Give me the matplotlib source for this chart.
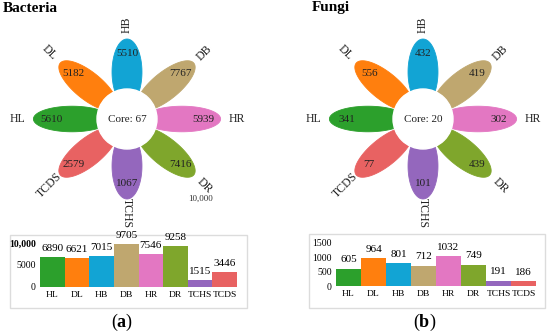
import numpy as np
import matplotlib
matplotlib.use("Agg")
import matplotlib.pyplot as plt
from matplotlib.patches import Polygon, Circle, Rectangle

plt.rcParams['font.family'] = ['Liberation Serif', 'DejaVu Serif']
plt.rcParams['mathtext.fontset'] = 'custom'
plt.rcParams['mathtext.rm'] = 'Liberation Serif'
plt.rcParams['mathtext.bf'] = 'Liberation Serif:bold'

# ---- data ----
groups = ["HL", "DL", "HB", "DB", "HR", "DR", "TCHS", "TCDS"]
colors = ["#2ca02c", "#ff7f0e", "#12a4d4", "#bfa76f", "#e377c2", "#7fa62c", "#9467bd", "#e86262"]
petal_angles = [180, 135, 90, 45, 0, -45, -90, -135]
label_rot = [0, -45, 90, 45, 0, -45, -90, 45]

bact_unique = [5610, 5182, 5510, 7767, 5939, 7416, 1067, 2579]
bact_core = 67
bact_total = [6890, 6621, 7015, 9705, 7546, 9258, 1515, 3446]

fungi_unique = [341, 556, 432, 419, 302, 439, 101, 77]
fungi_core = 20
fungi_total = [605, 964, 801, 712, 1032, 749, 191, 186]

W, H = 550, 336
fig = plt.figure(figsize=(W / 100, H / 100), dpi=100)

# overlay axes in pixel coords
ov = fig.add_axes([0, 0, 1, 1])
ov.set_xlim(0, W)
ov.set_ylim(H, 0)
ov.axis("off")

SX = 1.17  # horizontal stretch


def flower(cx, cy, uniq, core):
    t = np.linspace(0, 2 * np.pi, 160)
    d, a, b = 47, 33, 12.8
    for ang, col, v, g, rot in zip(petal_angles, colors, uniq, groups, label_rot):
        th = np.deg2rad(ang)
        lx = d + a * np.cos(t)
        ly = b * np.sin(t)
        px = lx * np.cos(th) - ly * np.sin(th)
        py = lx * np.sin(th) + ly * np.cos(th)
        pts = np.column_stack([cx + SX * px, cy - py])
        ov.add_patch(Polygon(pts, closed=True, facecolor=col, edgecolor=col, lw=0.6, zorder=2))
        ov.text(cx + SX * 65 * np.cos(th), cy - 65 * np.sin(th), str(v),
                ha="center", va="center", fontsize=8, color="#222222", zorder=4)
        ov.text(cx + SX * 94 * np.cos(th), cy - 94 * np.sin(th), g,
                ha="center", va="center", fontsize=8.5, rotation=rot,
                rotation_mode="anchor", color="#222222", zorder=4)
    ov.add_patch(Circle((cx, cy), 30, facecolor="white", edgecolor="white", zorder=3))
    ov.text(cx, cy, f"Core: {core}", ha="center", va="center", fontsize=8, color="#222222", zorder=4)


flower(127, 119, bact_unique, bact_core)
flower(423, 119, fungi_unique, fungi_core)

ov.text(3, 9, "Bacteria", fontsize=11, fontweight="bold", ha="left", va="center")
ov.text(312, 8, "Fungi", fontsize=11, fontweight="bold", ha="left", va="center")
ov.text(201, 199, "10,000", fontsize=6.5, ha="center", va="center", color="#333333")

# frames
ov.add_patch(Rectangle((10, 235), 237, 73, facecolor="none", edgecolor="#dcdcdc", lw=1, zorder=0))
ov.add_patch(Rectangle((309, 234), 236, 74, facecolor="none", edgecolor="#dcdcdc", lw=1, zorder=0))

# captions
ov.text(122, 322, r"($\mathbf{a}$)", fontsize=13, ha="center", va="center")
ov.text(425, 322, r"($\mathbf{b}$)", fontsize=13, ha="center", va="center")


def bars(rect, vals, ymax, ticks, ticklabels, bold_top):
    ax = fig.add_axes(rect)
    x = np.arange(len(vals))
    ax.bar(x, vals, width=1.0, color=colors)
    ax.set_xlim(-0.5, len(vals) - 0.5)
    ax.set_ylim(0, ymax)
    for s in ax.spines.values():
        s.set_visible(False)
    ax.set_xticks(x)
    ax.set_xticklabels(groups, fontsize=6.8)
    ax.set_yticks(ticks)
    ax.set_yticklabels(ticklabels, fontsize=7)
    if bold_top:
        ax.get_yticklabels()[-1].set_fontweight("bold")
    ax.tick_params(length=0, pad=3)
    for xi, v in zip(x, vals):
        ax.annotate(str(v), (xi, v), xytext=(0, 3), textcoords="offset points",
                    ha="center", va="bottom", fontsize=8, annotation_clip=False)
    return ax


bars([40 / W, (H - 287) / H, 197 / W, 44 / H], bact_total, 10000,
     [0, 5000, 10000], ["0", "5000", "10,000"], True)
bars([336 / W, (H - 286) / H, 200 / W, 43 / H], fungi_total, 1500,
     [0, 500, 1000, 1500], ["0", "500", "1000", "1500"], False)

fig.savefig("out.png", dpi=100)
